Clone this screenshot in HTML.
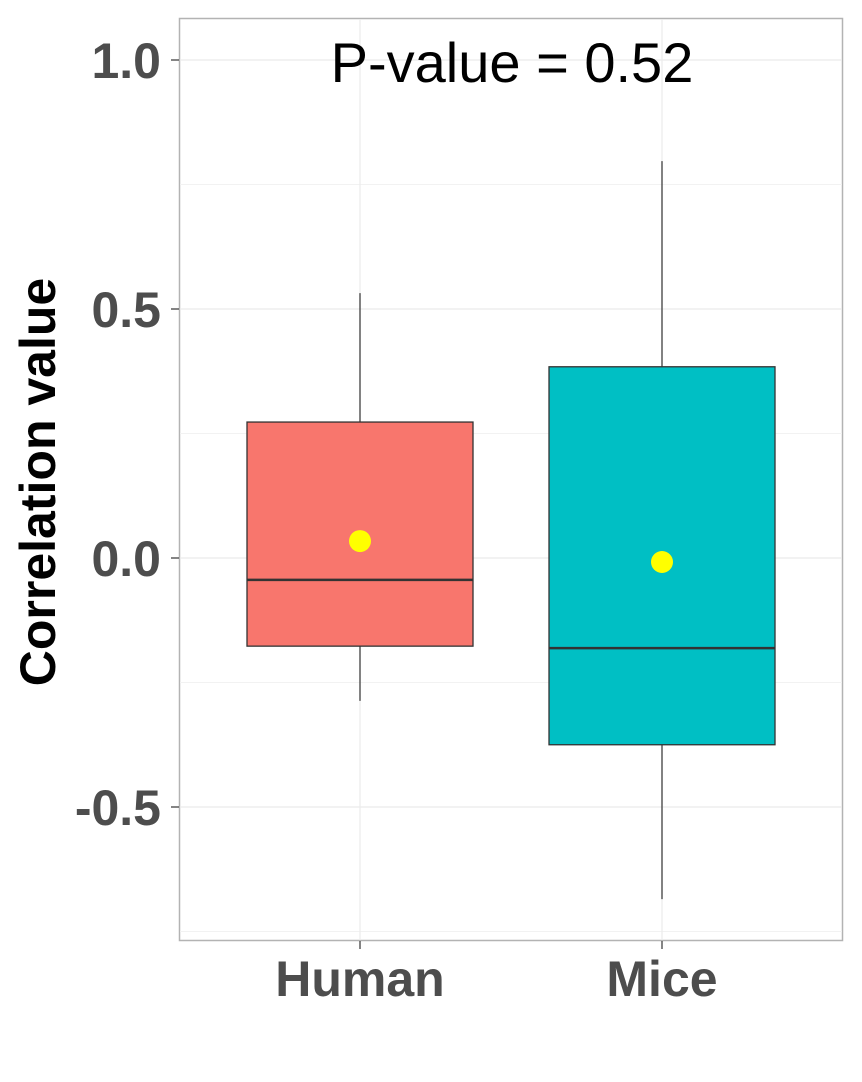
<!DOCTYPE html>
<html><head><meta charset="utf-8"><style>body{margin:0;background:#fff}svg{display:block}</style></head>
<body>
<svg id="chart" width="862" height="1082" xmlns="http://www.w3.org/2000/svg" font-family="Liberation Sans, sans-serif">
<rect x="179.5" y="18.5" width="663" height="922" fill="#fff" stroke="#b3b3b3" stroke-width="1.5"/>
<g id="grid"></g><g id="axes"></g><g id="boxes"></g>
<text x="512" y="82" font-size="56" text-anchor="middle" fill="#000">P-value = 0.52</text>
<text transform="translate(55,482) rotate(-90)" font-size="50" font-weight="bold" text-anchor="middle" fill="#000">Correlation value</text>
</svg>
<script>
const categories=["Human","Mice"];
const whiskerLow=[-0.287,-0.685];
const q1=[-0.177,-0.375];
const medians=[-0.044,-0.181];
const q3=[0.273,0.384];
const whiskerHigh=[0.532,0.797];
const means=[0.034,-0.008];
const yTicks=[-0.5,0.0,0.5,1.0];
const yTickLabels=["-0.5","0.0","0.5","1.0"];
const minorTicks=[-0.75,-0.25,0.25,0.75];
const fills=["#F8766D","#00BFC4"];
const NS="http://www.w3.org/2000/svg";
const y=v=>558-498*v;
const x=i=>360+302*i;
function mk(t,a,p){const e=document.createElementNS(NS,t);for(const k in a)e.setAttribute(k,a[k]);p.appendChild(e);return e;}
const g=document.getElementById('grid'),ax=document.getElementById('axes'),bx=document.getElementById('boxes');
minorTicks.forEach(v=>{const l=mk('line',{x1:180,x2:842,y1:y(v),y2:y(v),stroke:'#f2f2f2','stroke-width':1},g);

});
yTicks.forEach((v,i)=>{const l=mk('line',{x1:180,x2:842,y1:y(v),y2:y(v),stroke:'#ebebeb','stroke-width':1.2},g);


const t=mk('line',{x1:171,x2:179,y1:y(v),y2:y(v),stroke:'#333','stroke-width':1.2},ax);


const tx=mk('text',{x:161,y:y(v)+18,'font-size':50,'font-weight':'bold','text-anchor':'end',fill:'#4d4d4d'},ax);tx.textContent=yTickLabels[i];

});
categories.forEach((c,i)=>{const cx=x(i);
const vg=mk('line',{x1:cx,x2:cx,y1:19,y2:940,stroke:'#ebebeb','stroke-width':1.2},g);


const t=mk('line',{x1:cx,x2:cx,y1:941,y2:949,stroke:'#333','stroke-width':1.2},ax);


const tx=mk('text',{x:cx,y:996,'font-size':50,'font-weight':'bold','text-anchor':'middle',fill:'#4d4d4d'},ax);tx.textContent=c;


const w=mk('line',{x1:cx,x2:cx,y1:y(whiskerHigh[i]),y2:y(whiskerLow[i]),stroke:'#333','stroke-width':1.2},bx);


const r=mk('rect',{x:cx-113,y:y(q3[i]),width:226,height:y(q1[i])-y(q3[i]),fill:fills[i],stroke:'#333','stroke-width':1.3},bx);


const m=mk('line',{x1:cx-113,x2:cx+113,y1:y(medians[i]),y2:y(medians[i]),stroke:'#333','stroke-width':2.5},bx);


const p=mk('circle',{cx:cx,cy:y(means[i]),r:11,fill:'#ffff00'},bx);

});
</script>
</body></html>
